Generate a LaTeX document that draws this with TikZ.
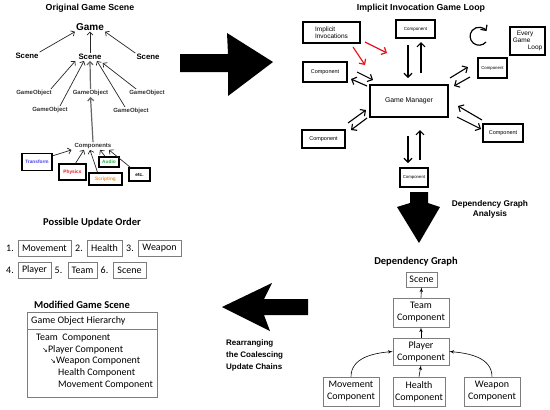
\documentclass[tikz,border=0pt]{standalone}
\usepackage{fontspec}
\setmainfont{Liberation Sans}
\newfontfamily\calib{Carlito}
\newfontfamily\symf{DejaVu Sans}
\usetikzlibrary{shapes,arrows,arrows.meta,calc,positioning}
\definecolor{trblue}{RGB}{70,60,235}
\definecolor{phred}{RGB}{235,20,30}
\definecolor{scorange}{RGB}{245,145,50}
\definecolor{augreen}{RGB}{40,175,70}
\definecolor{boxgray}{RGB}{125,125,125}
\tikzstyle{hdr} = [font=\bfseries\fontsize{8.8}{10}\selectfont, inner sep=0pt]
\tikzstyle{lvl} = [font=\bfseries\fontsize{7.8}{9}\selectfont, inner sep=1pt]
\tikzstyle{gobj} = [font=\bfseries\fontsize{6}{7}\selectfont, inner sep=1pt, text=black!80]
\tikzstyle{cbox} = [draw, line width=1.4pt, font=\bfseries\fontsize{4.8}{6}\selectfont, inner sep=0pt]
\tikzstyle{tree} = [draw, line width=0.7pt, black!85, -{Straight Barb[length=3pt,width=6pt]}]
\tikzstyle{lbox} = [draw, line width=1.3pt, inner sep=0pt, align=center]
\tikzstyle{dbl} = [draw, line width=1.1pt, -{Straight Barb[length=4pt,width=8pt]}]
\tikzstyle{redl} = [draw, phred, line width=1.2pt, -{Straight Barb[length=4pt,width=8pt]}]
\tikzstyle{gbox} = [draw=boxgray, line width=0.6pt, font=\calib\fontsize{10}{12}\selectfont, align=center, inner sep=0pt]
\tikzstyle{dep} = [draw, line width=0.6pt, -latex']
\tikzstyle{cal} = [font=\calib\fontsize{10}{12}\selectfont, inner sep=0pt, anchor=west]
\tikzstyle{calhd} = [font=\calib\bfseries\fontsize{10.5}{12}\selectfont, inner sep=0pt]

\begin{document}
\begin{tikzpicture}[x=1pt,y=-1pt]
\useasboundingbox (0,0) rectangle (550,410);

% original game scene
\node[hdr] (orig) at (90,8) {Original Game Scene};
\node[font=\bfseries\fontsize{10}{12}\selectfont, inner sep=1pt] (game) at (90,27) {Game};
\node[lvl] (sceneL) at (27,56) {Scene};
\node[lvl] (sceneM) at (90,57) {Scene};
\node[lvl] (sceneR) at (148,57) {Scene};
\draw[tree] (sceneL.north east) -- (game.south west);
\draw[tree] (sceneM.north) -- (game.south);
\draw[tree] (sceneR.north west) -- (game.south east);

\node[gobj] (goA) at (34,93) {GameObject};
\node[gobj] (goB) at (50,110) {GameObject};
\node[gobj] (goC) at (90.5,93) {GameObject};
\node[gobj] (goD) at (131,111) {GameObject};
\node[gobj] (goE) at (147,93) {GameObject};
\draw[tree] ([xshift=-2pt]goA.north east) -- ([xshift=-2pt]sceneM.south west);
\draw[tree] ([xshift=10pt]goB.north) -- ([xshift=-6pt]sceneM.south);
\draw[tree, line width=1.2pt, black!60] (goC.north) -- (sceneM.south);
\draw[tree] ([xshift=-6pt]goD.north) -- ([xshift=7pt]sceneM.south);
\draw[tree] ([xshift=8pt]goE.north west) -- ([yshift=-2pt]sceneM.south east);

\node[gobj] (comps) at (93,146) {Components};
\draw[tree, line width=1.2pt, black!60] (comps.north) -- (goC.south);

\node[cbox, text=trblue, minimum width=30pt, minimum height=17pt] (tr) at (37,162) {Transform};
\node[cbox, text=phred, minimum width=27pt, minimum height=16pt] (ph) at (72.5,172) {Physics};
\node[cbox, text=scorange, minimum width=33pt, minimum height=12pt] (sc) at (105.5,179) {Scripting};
\node[cbox, text=augreen, minimum width=20pt, minimum height=10pt] (au) at (109,162) {Audio};
\node[cbox, minimum width=21pt, minimum height=13pt] (etc) at (139.5,174.5) {etc.};
\draw[tree] ([yshift=-3pt]tr.north east) -- ([xshift=-2pt]comps.south west);
\draw[tree] ([xshift=3pt]ph.north) -- ([xshift=-9pt]comps.south);
\draw[tree] ([xshift=-8pt]sc.north) -- ([xshift=-3pt]comps.south);
\draw[tree] ([xshift=-4pt]au.north) -- ([xshift=7pt]comps.south);
\draw[tree] ([xshift=2pt]etc.north west) -- ([xshift=16pt]comps.south);

% big arrows
\fill (180,54) -- (228,54) -- (227,33) -- (273,62) -- (228,96) -- (228,72) -- (180,72) -- cycle;
\fill (410,192) -- (428,192) -- (428,203) -- (440,207) -- (419,243) -- (397,207) -- (410,203) -- cycle;
\fill (308,299) -- (264,299) -- (272,283) -- (222,307) -- (270,331) -- (264,315) -- (308,315) -- cycle;

% implicit invocation game loop
\node[hdr] (loophd) at (421,8) {Implicit Invocation Game Loop};
\node[lbox, align=left, minimum width=57pt, minimum height=21pt, font=\fontsize{6.5}{7.5}\selectfont] (inv) at (331.5,32.5) {Implicit\\Invocations};
\node[lbox, minimum width=39pt, minimum height=18pt, font=\fontsize{4.5}{5}\selectfont] (compT) at (415.5,29) {Component};
\node[lbox, align=left, minimum width=35pt, minimum height=28pt, font=\fontsize{6.5}{7}\selectfont] (every) at (527.5,41) {\hspace*{4pt}Every\\Game\\\hspace*{15pt}Loop};
\node[lbox, minimum width=44pt, minimum height=20pt, font=\fontsize{5.5}{6}\selectfont] (compL) at (325,72) {Component};
\node[lbox, minimum width=29pt, minimum height=20pt, font=\fontsize{4.3}{5}\selectfont] (compR) at (492.5,68) {Component};
\node[lbox, minimum width=78pt, minimum height=32pt, font=\fontsize{6.9}{8}\selectfont] (gm) at (409,101) {Game Manager};
\node[lbox, minimum width=43pt, minimum height=18pt, font=\fontsize{5.5}{6}\selectfont] (compLB) at (323.5,139) {Component};
\node[lbox, minimum width=40pt, minimum height=18pt, font=\fontsize{5.5}{6}\selectfont] (compRB) at (503,133) {Component};
\node[lbox, minimum width=28pt, minimum height=19pt, font=\fontsize{4.3}{5}\selectfont] (compB) at (414,177.5) {Component};
\draw[line width=1.2pt, -{Straight Barb[length=4pt,width=8pt]}] (486,42) arc[start angle=40, end angle=325, radius=9];

\draw[redl] (353,47) -- (365,65);
\draw[redl] (365,42) -- (387,53);

\draw[dbl] (408,45) -- (408,78);
\draw[dbl] (421,73) -- (421,42);
\draw[dbl] (357,72) -- (373,80);
\draw[dbl] (367,86) -- (351,79);
\draw[dbl] (348,123) -- (366,110);
\draw[dbl] (367,118) -- (351,130);
\draw[dbl] (450,78) -- (468,67);
\draw[dbl] (470,77) -- (454,86);
\draw[dbl] (482,120) -- (458,106);
\draw[dbl] (457,117) -- (481,129);
\draw[dbl] (408,136) -- (408,163);
\draw[dbl] (420,160) -- (420,130);

\node[font=\bfseries\fontsize{8.3}{10}\selectfont, align=center] (dga) at (490,209) {Dependency Graph\\Analysis};

% dependency graph
\node[font=\calib\bfseries\fontsize{10.5}{12}\selectfont] (dghd) at (416,262) {Dependency Graph};
\node[gbox, minimum width=31pt, minimum height=15pt] (dscene) at (421.5,279.5) {Scene};
\node[gbox, minimum width=56pt, minimum height=29pt] (dteam) at (421,312.5) {Team\\Component};
\node[gbox, minimum width=56pt, minimum height=27pt] (dplayer) at (421,351.5) {Player\\Component};
\node[gbox, minimum width=56pt, minimum height=29pt] (dmove) at (351,391.5) {Movement\\Component};
\node[gbox, minimum width=52pt, minimum height=29pt] (dhealth) at (419,391.5) {Health\\Component};
\node[gbox, minimum width=56pt, minimum height=29pt] (dweapon) at (492,391.5) {Weapon\\Component};
\draw[dep] (dteam.north) -- (dscene.south);
\draw[dep] (dplayer.north) -- (dteam.south);
\draw[dep] (dhealth.north) -- (dplayer.south);
\draw[dep] (dmove.north) to[out=90,in=185] (dplayer.west);
\draw[dep] (dweapon.north) to[out=90,in=-5] (dplayer.east);

\node[font=\bfseries\fontsize{8}{12}\selectfont, align=left, anchor=west, inner sep=0pt] (rearr) at (226,355) {Rearranging\\the Coalescing\\Update Chains};

% possible update order
\node[calhd] (orderhd) at (92,223) {Possible Update Order};
\node[cal] (n1) at (6,248) {1.};
\node[gbox, minimum width=53pt, minimum height=16pt] (o1) at (44.5,248) {Movement};
\node[cal] (n2) at (75,248) {2.};
\node[gbox, minimum width=35pt, minimum height=16pt] (o2) at (104.5,248) {Health};
\node[cal] (n3) at (126,248) {3.};
\node[gbox, minimum width=43pt, minimum height=16pt] (o3) at (159.5,248) {Weapon};
\node[cal] (n4) at (6,270) {4.};
\node[gbox, minimum width=33pt, minimum height=16pt] (o4) at (34.5,270) {Player};
\node[cal] (n5) at (54.5,270) {5.};
\node[gbox, minimum width=29pt, minimum height=16pt] (o5) at (82.5,270) {Team};
\node[cal] (n6) at (100.5,270) {6.};
\node[gbox, minimum width=33pt, minimum height=16pt] (o6) at (129.5,270) {Scene};

% modified game scene
\node[calhd] (modhd) at (82,305) {Modified Game Scene};
\draw[boxgray, line width=0.6pt] (27,312) rectangle (157,397);
\draw[boxgray, line width=0.6pt] (27,329) -- (157,329);
\node[cal] (hier) at (31,321) {Game Object Hierarchy};
\node[cal] (h1) at (36,338) {Team\ \ Component};
\node[cal] (h2) at (42,349.5) {{\symf\fontsize{7}{8}\selectfont ↘}Player Component};
\node[cal] (h3) at (50,361) {{\symf\fontsize{7}{8}\selectfont ↘}Weapon Component};
\node[cal] (h4) at (58,373) {Health Component};
\node[cal] (h5) at (58,385) {Movement Component};

\end{tikzpicture}
\end{document}
